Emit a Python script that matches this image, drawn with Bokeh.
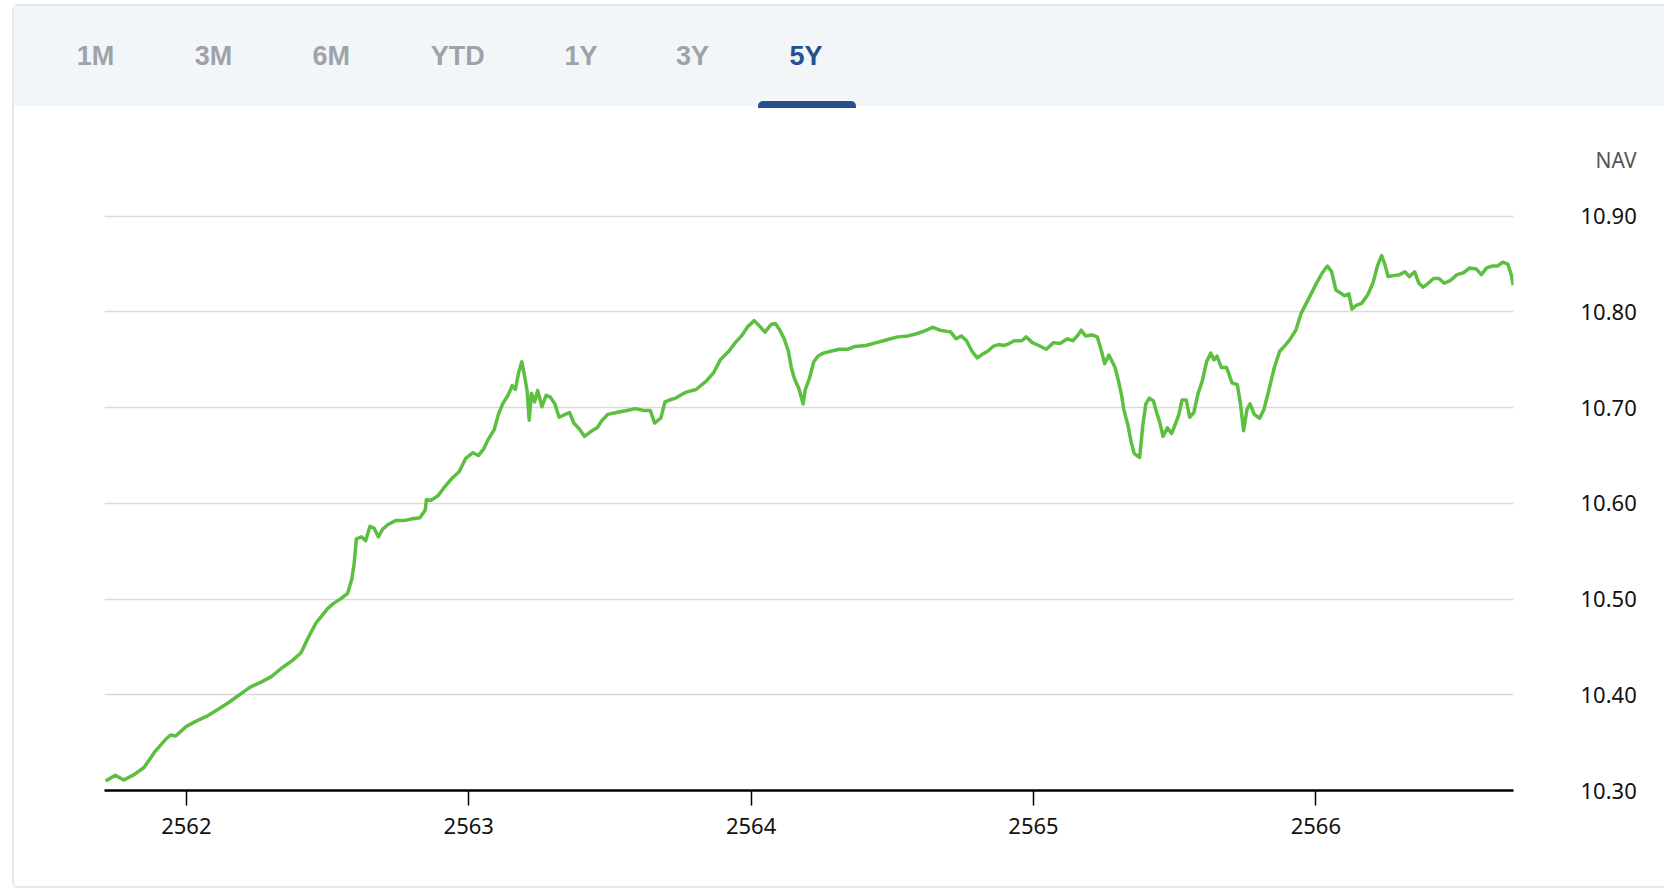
from bokeh.plotting import figure
from bokeh.models import Range1d, FixedTicker, PrintfTickFormatter, Div
from bokeh.layouts import column
from bokeh.embed import file_html
from bokeh.resources import INLINE

# ---------------- data ----------------
tabs = ["1M", "3M", "6M", "YTD", "1Y", "3Y", "5Y"]
active_tab = "5Y"
axis_title = "NAV"
x_ticks = [2562, 2563, 2564, 2565, 2566]
y_ticks = [10.30, 10.40, 10.50, 10.60, 10.70, 10.80, 10.90]

years = [
    2561.714, 2561.748, 2561.778, 2561.812, 2561.850, 2561.887, 2561.925, 2561.944, 2561.962, 2562.000,
    2562.038, 2562.075, 2562.113, 2562.150, 2562.188, 2562.226, 2562.263, 2562.301, 2562.338, 2562.376,
    2562.406, 2562.432, 2562.459, 2562.481, 2562.500, 2562.519, 2562.545, 2562.571, 2562.586, 2562.594,
    2562.602, 2562.620, 2562.635, 2562.650, 2562.665, 2562.680, 2562.695, 2562.714, 2562.741, 2562.771,
    2562.801, 2562.827, 2562.846, 2562.850, 2562.865, 2562.891, 2562.914, 2562.940, 2562.966, 2562.989,
    2563.015, 2563.034, 2563.053, 2563.071, 2563.090, 2563.105, 2563.120, 2563.139, 2563.154, 2563.165,
    2563.177, 2563.188, 2563.199, 2563.207, 2563.214, 2563.222, 2563.233, 2563.244, 2563.259, 2563.274,
    2563.289, 2563.305, 2563.320, 2563.342, 2563.357, 2563.372, 2563.391, 2563.410, 2563.432, 2563.455,
    2563.470, 2563.492, 2563.523, 2563.560, 2563.590, 2563.620, 2563.643, 2563.658, 2563.680, 2563.695,
    2563.711, 2563.733, 2563.767, 2563.805, 2563.842, 2563.868, 2563.891, 2563.921, 2563.944, 2563.966,
    2563.989, 2564.011, 2564.034, 2564.049, 2564.071, 2564.086, 2564.102, 2564.117, 2564.132, 2564.143,
    2564.154, 2564.169, 2564.184, 2564.192, 2564.207, 2564.222, 2564.237, 2564.256, 2564.282, 2564.312,
    2564.342, 2564.368, 2564.406, 2564.444, 2564.481, 2564.519, 2564.556, 2564.583, 2564.613, 2564.643,
    2564.669, 2564.688, 2564.707, 2564.726, 2564.744, 2564.763, 2564.782, 2564.801, 2564.820, 2564.838,
    2564.857, 2564.876, 2564.895, 2564.914, 2564.932, 2564.959, 2564.974, 2564.996, 2565.019, 2565.045,
    2565.071, 2565.094, 2565.120, 2565.139, 2565.158, 2565.169, 2565.184, 2565.207, 2565.226, 2565.241,
    2565.252, 2565.267, 2565.289, 2565.301, 2565.312, 2565.320, 2565.335, 2565.346, 2565.357, 2565.376,
    2565.387, 2565.398, 2565.410, 2565.425, 2565.436, 2565.447, 2565.459, 2565.474, 2565.489, 2565.504,
    2565.515, 2565.526, 2565.541, 2565.553, 2565.568, 2565.583, 2565.598, 2565.613, 2565.628, 2565.639,
    2565.650, 2565.665, 2565.684, 2565.703, 2565.722, 2565.733, 2565.744, 2565.756, 2565.767, 2565.782,
    2565.801, 2565.816, 2565.835, 2565.853, 2565.872, 2565.891, 2565.910, 2565.929, 2565.947, 2565.966,
    2565.985, 2566.004, 2566.023, 2566.041, 2566.056, 2566.071, 2566.086, 2566.102, 2566.117, 2566.128,
    2566.143, 2566.162, 2566.184, 2566.203, 2566.218, 2566.233, 2566.244, 2566.256, 2566.274, 2566.297,
    2566.316, 2566.331, 2566.350, 2566.365, 2566.380, 2566.398, 2566.417, 2566.436, 2566.455, 2566.477,
    2566.500, 2566.523, 2566.545, 2566.568, 2566.586, 2566.605, 2566.624, 2566.643, 2566.662, 2566.680,
    2566.692, 2566.699,
]

nav = [
    10.310, 10.316, 10.311, 10.316, 10.324, 10.340, 10.353, 10.358, 10.357, 10.367,
    10.373, 10.378, 10.385, 10.392, 10.400, 10.408, 10.413, 10.419, 10.428, 10.436,
    10.444, 10.460, 10.475, 10.483, 10.490, 10.495, 10.500, 10.506, 10.521, 10.537,
    10.563, 10.565, 10.561, 10.576, 10.574, 10.565, 10.573, 10.578, 10.582, 10.582,
    10.584, 10.585, 10.593, 10.604, 10.603, 10.608, 10.617, 10.626, 10.633, 10.647,
    10.653, 10.650, 10.657, 10.668, 10.677, 10.693, 10.704, 10.713, 10.723, 10.719,
    10.737, 10.748, 10.731, 10.717, 10.687, 10.715, 10.706, 10.718, 10.701, 10.713,
    10.711, 10.704, 10.690, 10.693, 10.695, 10.684, 10.678, 10.670, 10.675, 10.679,
    10.686, 10.693, 10.695, 10.697, 10.699, 10.697, 10.697, 10.684, 10.689, 10.706,
    10.708, 10.710, 10.716, 10.719, 10.728, 10.737, 10.750, 10.759, 10.768, 10.775,
    10.785, 10.791, 10.784, 10.779, 10.787, 10.788, 10.781, 10.772, 10.759, 10.741,
    10.730, 10.720, 10.704, 10.719, 10.731, 10.748, 10.754, 10.757, 10.759, 10.761,
    10.761, 10.764, 10.765, 10.768, 10.771, 10.774, 10.775, 10.777, 10.780, 10.784,
    10.781, 10.780, 10.779, 10.772, 10.775, 10.770, 10.759, 10.752, 10.756, 10.759,
    10.764, 10.766, 10.765, 10.767, 10.770, 10.770, 10.774, 10.768, 10.765, 10.761,
    10.768, 10.767, 10.772, 10.770, 10.776, 10.781, 10.775, 10.776, 10.774, 10.759,
    10.746, 10.755, 10.742, 10.728, 10.713, 10.698, 10.681, 10.664, 10.652, 10.648,
    10.681, 10.704, 10.710, 10.707, 10.695, 10.685, 10.670, 10.679, 10.673, 10.684,
    10.693, 10.708, 10.708, 10.690, 10.695, 10.715, 10.728, 10.748, 10.757, 10.750,
    10.754, 10.742, 10.742, 10.726, 10.724, 10.704, 10.676, 10.698, 10.704, 10.693,
    10.689, 10.698, 10.720, 10.742, 10.759, 10.765, 10.772, 10.781, 10.798, 10.809,
    10.820, 10.831, 10.841, 10.848, 10.842, 10.823, 10.820, 10.817, 10.819, 10.803,
    10.807, 10.809, 10.818, 10.831, 10.848, 10.859, 10.850, 10.837, 10.838, 10.839,
    10.842, 10.837, 10.842, 10.830, 10.826, 10.830, 10.835, 10.835, 10.830, 10.833,
    10.839, 10.841, 10.846, 10.845, 10.839, 10.846, 10.848, 10.848, 10.852, 10.850,
    10.839, 10.828,
]

# ---------------- layout / style ----------------
W = 1640
HEAD_W = 1650
HEAD_H = 184
MAIN_H = 696
tab_x = [81.6, 199.4, 317.3, 443.7, 566.9, 678.4, 792.0]
TAB_GRAY = "#9ea3aa"
TAB_BLUE = "#26508f"
LINE_GREEN = "#5cbf3f"

# header: range tabs + "NAV" caption (HTML text)
parts = [f'<div style="position:relative;width:{HEAD_W}px;height:{HEAD_H}px;'
         f'font-family:\'Liberation Sans\',Arial,sans-serif;">',
         f'<div style="position:absolute;left:0;top:0;width:{HEAD_W}px;height:100px;background:#f3f6f9;"></div>']
for t, x in zip(tabs, tab_x):
    c = TAB_BLUE if t == active_tab else TAB_GRAY
    parts.append(f'<span style="position:absolute;left:{x}px;top:50px;transform:translate(-50%,-50%);'
                 f'font-weight:bold;font-size:27px;line-height:1;color:{c};white-space:nowrap;">{t}</span>')
ax = tab_x[tabs.index(active_tab)]
parts.append(f'<div style="position:absolute;left:{ax - 48}px;top:95px;width:98px;height:7px;'
             f'background:{TAB_BLUE};border-radius:5px 5px 0 0;"></div>')
parts.append(f'<span style="position:absolute;left:1602px;top:154px;transform:translate(-50%,-50%);'
             f'font-family:\'Noto Sans\',sans-serif;font-size:21px;line-height:1;color:#555555;">{axis_title}</span>')
parts.append('</div>')
header = Div(text="".join(parts), width=HEAD_W, height=HEAD_H, margin=(0, 0, 0, 0))

# main chart
p = figure(width=W, height=MAIN_H, x_range=Range1d(2561.71, 2566.70),
           y_range=Range1d(10.30, 10.905), y_axis_location="right",
           min_border_left=90, min_border_right=141, min_border_top=21, min_border_bottom=96,
           toolbar_location=None, output_backend="svg")
p.outline_line_color = None
p.background_fill_color = "white"
p.border_fill_color = "white"

p.line(years, nav, line_color=LINE_GREEN, line_width=3.5, line_join="round")

p.xgrid.visible = False
p.ygrid.ticker = FixedTicker(ticks=y_ticks)
p.ygrid.grid_line_color = "#dadada"
p.ygrid.grid_line_width = 1.5

xa = p.xaxis[0]
xa.ticker = FixedTicker(ticks=x_ticks)
xa.axis_line_color = "black"
xa.axis_line_width = 2.5
xa.major_tick_line_color = "black"
xa.major_tick_line_width = 1.5
xa.major_tick_out = 15
xa.major_tick_in = 0
xa.minor_tick_line_color = None
xa.major_label_standoff = 12
xa.major_label_text_font = "Noto Sans"
xa.major_label_text_font_size = "22px"
xa.major_label_text_color = "#111111"

ya = p.yaxis[0]
ya.ticker = FixedTicker(ticks=y_ticks)
ya.formatter = PrintfTickFormatter(format="%.2f")
ya.axis_line_color = None
ya.major_tick_line_color = None
ya.minor_tick_line_color = None
ya.major_label_standoff = 61
ya.major_label_text_font = "Noto Sans"
ya.major_label_text_font_size = "22px"
ya.major_label_text_color = "#111111"

layout = column(header, p, spacing=0,
                styles={"border-left": "2px solid #e4e7eb", "border-top": "2px solid #e4e7eb",
                        "border-bottom": "2px solid #e4e7eb", "border-radius": "6px 0 0 6px",
                        "margin-left": "12px", "margin-top": "4px"})

open("out.html", "w").write(file_html(layout, INLINE))
